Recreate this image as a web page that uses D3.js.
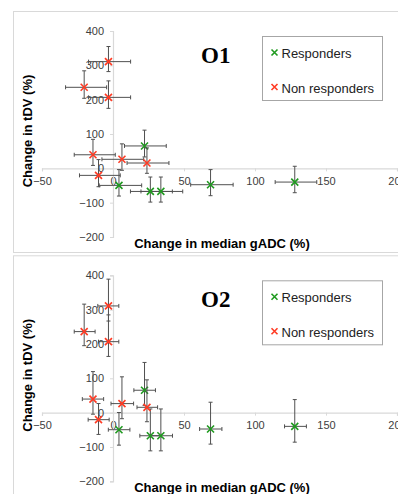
<!DOCTYPE html>
<html>
<head>
<meta charset="utf-8">
<script src="https://cdn.jsdelivr.net/npm/d3@7"></script>
<style>
  body { margin: 0; background: #fff; }
  svg { display: block; }
</style>
</head>
<body>
<svg id="chart" width="398" height="494"></svg>
<script>
// values (same means in both panels, only the error bars change)
const respX = [22.2, 4.2, 26.3, 33.7, 68.7, 128];
const respY = [65.2, -49.7, -67.3, -67.3, -47.7, -40];
const nonX = [-3.2, -20.3, -3.2, -14.1, 6.3, 23.9, -10.2];
const nonY = [310.8, 236, 206.7, 39.5, 26.3, 15.5, -20.5];

// O1 error bars
const o1RespXLo = [14.1, 13.9, 14, 14, 14, 13.8];
const o1RespXHi = [15.3, 16, 15.5, 15.4, 15.9, 15.5];
const o1RespYUp = [46, 46, 42, 42, 44, 46];
const o1RespYDn = [32, 31, 31, 31, 32, 31];
const o1NonXLo = [14, 13.1, 14, 13.2, 14.1, 14, 13.4];
const o1NonXHi = [15.6, 15.8, 15.6, 15.7, 15.3, 15.5, 15.3];
const o1NonYUp = [44, 48, 48, 45, 45, 44, 46];
const o1NonYDn = [29, 32, 32, 31, 32, 30, 33];

// O2 error bars
const o2RespXLo = [7.5, 7.5, 7.4, 7.4, 7.7, 7.2];
const o2RespXHi = [7.7, 7.7, 7.8, 8.2, 8, 8.2];
const o2RespYUp = [81, 50, 78, 78, 78, 78];
const o2RespYDn = [44, 45, 44, 44, 44, 46];
const o2NonXLo = [7.5, 7, 7, 7.5, 7.7, 7, 7.3];
const o2NonXHi = [7.3, 7.7, 7.3, 7.5, 8.2, 7.5, 7.5];
const o2NonYUp = [78, 80, 78, 80, 78, 80, 47];
const o2NonYDn = [44, 41, 43, 44, 44, 42, 43];

const xTicks = [-50, 0, 50, 100, 150, 200];
const yTicks = [-200, -100, 0, 100, 200, 300, 400];
const panelTitles = ["O1", "O2"];
const legendLabels = ["Responders", "Non responders"];

const chart = {};
chart.green = "#1f9a1f";
chart.red = "#ff3b24";
chart.font = "'Liberation Sans', Arial, sans-serif";
chart.svg = d3.select("#chart");

chart.x = d3.scaleLinear().domain([-50, 200]).range([42, 397]);
chart.y = d3.scaleLinear().domain([-200, 400]).range([237, 31]);

// build point tables for one panel
function points(xs, ys, xlo, xhi, yup, ydn) {
    return xs.map(function(d, i) {
        return { x: d, y: ys[i], xlo: xlo[i], xhi: xhi[i], yup: yup[i], ydn: ydn[i] };
    });
}

function drawCross(sel, size, color) {
    sel.append("path")
        .attr("d", "M" + (-size) + "," + (-size) + "L" + size + "," + size +
                   "M" + (-size) + "," + size + "L" + size + "," + (-size))
        .attr("stroke", color)
        .attr("stroke-width", 1.6)
        .attr("fill", "none");
}

function drawSeries(g, data, color) {
    const x = chart.x, y = chart.y;
    const bars = g.append("g").attr("stroke", "#505050").attr("stroke-width", 1);
    data.forEach(function(d) {
        const cx = x(d.x), cy = y(d.y);
        // vertical
        bars.append("line").attr("x1", cx).attr("x2", cx).attr("y1", y(d.y + d.yup)).attr("y2", y(d.y - d.ydn));
        bars.append("line").attr("x1", cx - 2).attr("x2", cx + 2).attr("y1", y(d.y + d.yup)).attr("y2", y(d.y + d.yup));
        bars.append("line").attr("x1", cx - 2).attr("x2", cx + 2).attr("y1", y(d.y - d.ydn)).attr("y2", y(d.y - d.ydn));
        // horizontal
        bars.append("line").attr("x1", x(d.x - d.xlo)).attr("x2", x(d.x + d.xhi)).attr("y1", cy).attr("y2", cy);
        bars.append("line").attr("x1", x(d.x - d.xlo)).attr("x2", x(d.x - d.xlo)).attr("y1", cy - 2).attr("y2", cy + 2);
        bars.append("line").attr("x1", x(d.x + d.xhi)).attr("x2", x(d.x + d.xhi)).attr("y1", cy - 2).attr("y2", cy + 2);
    });
    g.selectAll(null)
        .data(data)
        .enter().append("g")
        .attr("transform", function(d) { return "translate(" + x(d.x) + "," + y(d.y) + ")"; })
        .each(function() { drawCross(d3.select(this), 3.5, color); });
}

chart.drawPanel = function(offset, title, resp, non) {
    const x = chart.x, y = chart.y;
    const g = chart.svg.append("g").attr("transform", "translate(0," + offset + ")");

    // frame of the chart area
    g.append("rect")
        .attr("x", 13.5).attr("y", 11.5)
        .attr("width", 420).attr("height", 241)
        .attr("fill", "#fff")
        .attr("stroke", "#d9d9d9");

    // x axis sits at y = 0
    const xAxis = g.append("g")
        .attr("transform", "translate(0," + y(0) + ")")
        .call(d3.axisBottom(x).tickValues(xTicks).tickSize(3).tickPadding(6));
    xAxis.select(".domain").attr("stroke", "#d9d9d9").attr("stroke-width", 1.2);
    xAxis.selectAll(".tick line").attr("stroke", "#d9d9d9");
    xAxis.selectAll("text").attr("font-family", chart.font).attr("font-size", 11).attr("fill", "#404040");

    const yAxis = g.append("g")
        .attr("transform", "translate(" + x(0) + ",0)")
        .call(d3.axisLeft(y).tickValues(yTicks).tickSize(3).tickPadding(6));
    yAxis.select(".domain").attr("stroke", "#d9d9d9").attr("stroke-width", 1.2);
    yAxis.selectAll(".tick line").attr("stroke", "#d9d9d9");
    yAxis.selectAll("text").attr("font-family", chart.font).attr("font-size", 11).attr("fill", "#404040");

    drawSeries(g, resp, chart.green);
    drawSeries(g, non, chart.red);

    g.append("text")
        .attr("x", 222).attr("y", 248)
        .attr("text-anchor", "middle")
        .attr("font-family", chart.font)
        .attr("font-weight", "bold")
        .attr("font-size", 13)
        .text("Change in median gADC (%)");

    g.append("text")
        .attr("x", -131).attr("y", 31.5)
        .attr("transform", "rotate(-90)")
        .attr("text-anchor", "middle")
        .attr("font-family", chart.font)
        .attr("font-weight", "bold")
        .attr("font-size", 13)
        .text("Change in tDV (%)");

    g.append("text")
        .attr("x", 201).attr("y", 63)
        .attr("font-family", "'Liberation Serif', 'Times New Roman', serif")
        .attr("font-weight", "bold")
        .attr("font-size", 23)
        .text(title);

    // legend
    const leg = g.append("g");
    leg.append("rect")
        .attr("x", 262.5).attr("y", 36.5)
        .attr("width", 120).attr("height", 64)
        .attr("fill", "#fff")
        .attr("stroke", "#a6a6a6");
    const legColors = [chart.green, chart.red];
    legendLabels.forEach(function(lab, i) {
        const ly = 52.5 + i * 34.5;
        drawCross(leg.append("g").attr("transform", "translate(274.5," + ly + ")"), 3, legColors[i]);
        leg.append("text")
            .attr("x", 281.5).attr("y", ly + 5.5)
            .attr("font-family", chart.font)
            .attr("font-size", 13)
            .attr("fill", "#222")
            .text(lab);
    });
};

chart.drawPanel(0, panelTitles[0],
    points(respX, respY, o1RespXLo, o1RespXHi, o1RespYUp, o1RespYDn),
    points(nonX, nonY, o1NonXLo, o1NonXHi, o1NonYUp, o1NonYDn));

chart.drawPanel(244.3, panelTitles[1],
    points(respX, respY, o2RespXLo, o2RespXHi, o2RespYUp, o2RespYDn),
    points(nonX, nonY, o2NonXLo, o2NonXHi, o2NonYUp, o2NonYDn));
</script>
</body>
</html>
